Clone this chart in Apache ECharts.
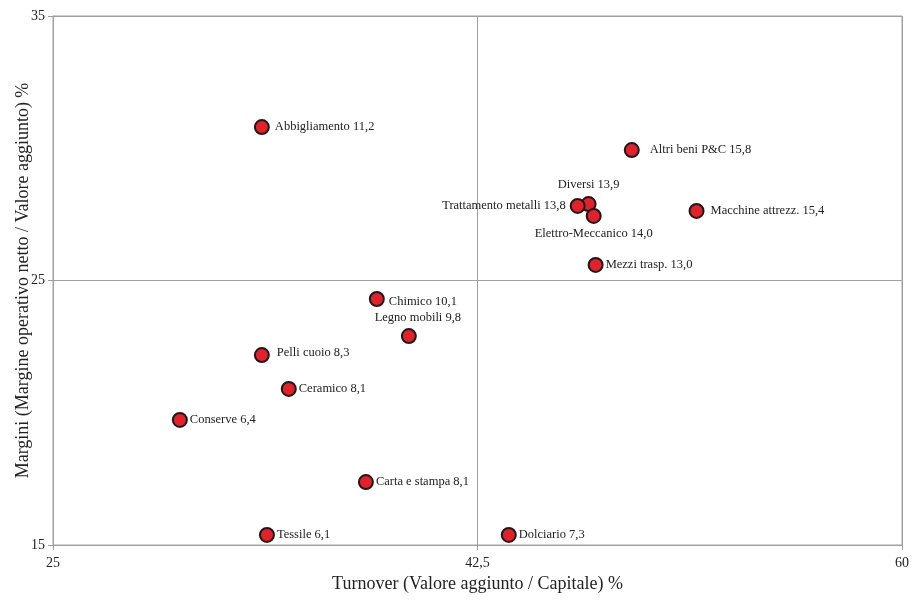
<!DOCTYPE html>
<html>
<head>
<meta charset="utf-8">
<script src="https://cdn.jsdelivr.net/npm/echarts@6/dist/echarts.min.js"></script>
<style>html,body{margin:0;padding:0;background:#fff}#c{width:913px;height:600px}</style>
</head>
<body>
<div id="c"></div>
<script>
var names = ['Abbigliamento 11,2','Altri beni P&C 15,8','Diversi 13,9','Trattamento metalli 13,8','Elettro-Meccanico 14,0','Macchine attrezz. 15,4','Mezzi trasp. 13,0','Chimico 10,1','Legno mobili 9,8','Pelli cuoio 8,3','Ceramico 8,1','Conserve 6,4','Carta e stampa 8,1','Tessile 6,1','Dolciario 7,3'];
var turnover = [33.61, 48.86, 47.08, 46.63, 47.29, 51.53, 47.37, 38.35, 39.67, 33.61, 34.72, 30.23, 37.9, 33.82, 43.79];
var margini = [30.8, 29.93, 27.89, 27.82, 27.44, 27.63, 25.59, 24.3, 22.9, 22.18, 20.9, 19.73, 17.38, 15.38, 15.38];
var xTicks = [25, 42.5, 60];
var yTicks = [15, 25, 35];

var labelStyle = {
  'Abbigliamento 11,2': {position:'right', distance:5},
  'Altri beni P&C 15,8': {position:'right', distance:10},
  'Diversi 13,9': {position:'top', distance:5},
  'Trattamento metalli 13,8': {position:'left', distance:4},
  'Elettro-Meccanico 14,0': {position:'bottom', distance:3},
  'Macchine attrezz. 15,4': {position:'right', distance:6},
  'Mezzi trasp. 13,0': {position:'right', distance:2},
  'Chimico 10,1': {position:'right', distance:4, offset:[0,3]},
  'Legno mobili 9,8': {position:'top', distance:4, offset:[9,0]},
  'Pelli cuoio 8,3': {position:'right', distance:7, offset:[0,-2]},
  'Ceramico 8,1': {position:'right', distance:2},
  'Conserve 6,4': {position:'right', distance:2},
  'Carta e stampa 8,1': {position:'right', distance:2},
  'Tessile 6,1': {position:'right', distance:2},
  'Dolciario 7,3': {position:'right', distance:2}
};

var data = names.map(function(n, i){
  return {name:n, value:[turnover[i], margini[i]], label: labelStyle[n]};
});

var fmt = function(v){ return String(v).replace('.', ','); };

var chart = echarts.init(document.getElementById('c'));
chart.setOption({
  animation:false,
  backgroundColor:'#fff',
  textStyle:{fontFamily:'Liberation Serif'},
  grid:{left:53, right:11, top:16, bottom:55, containLabel:false, outerBoundsMode:'none', show:true, borderColor:'#a0a0a0', borderWidth:1},
  xAxis:{
    type:'value', min:xTicks[0], max:xTicks[2], interval:xTicks[1]-xTicks[0],
    name:'Turnover (Valore aggiunto / Capitale) %', nameLocation:'middle', nameGap:30, nameMoveOverlap:false,
    nameTextStyle:{fontFamily:'Liberation Serif', fontSize:18, color:'#222'},
    axisLine:{lineStyle:{color:'#a0a0a0'}},
    axisTick:{show:true, length:5, lineStyle:{color:'#a0a0a0'}},
    axisLabel:{fontFamily:'Liberation Serif', fontSize:14, color:'#222', formatter:fmt, margin:11},
    splitLine:{show:true, lineStyle:{color:'#a0a0a0'}}
  },
  yAxis:{
    type:'value', min:yTicks[0], max:yTicks[2], interval:yTicks[1]-yTicks[0],
    name:'Margini (Margine operativo netto / Valore aggiunto) %', nameLocation:'middle', nameGap:21, nameMoveOverlap:false,
    nameTextStyle:{fontFamily:'Liberation Serif', fontSize:18, color:'#222'},
    axisLine:{show:true, lineStyle:{color:'#a0a0a0'}},
    axisTick:{show:true, length:5, lineStyle:{color:'#a0a0a0'}},
    axisLabel:{fontFamily:'Liberation Serif', fontSize:14, color:'#222', formatter:fmt, margin:8},
    splitLine:{show:true, lineStyle:{color:'#a0a0a0'}}
  },
  series:[{
    type:'scatter',
    symbol:'circle',
    symbolSize:14,
    itemStyle:{color:'#e5202a', borderColor:'#1a1a1a', borderWidth:2, opacity:1},
    label:{show:true, formatter:'{b}', fontFamily:'Liberation Serif', fontSize:12.5, color:'#222'},
    data:data
  }]
});
</script>
</body>
</html>
